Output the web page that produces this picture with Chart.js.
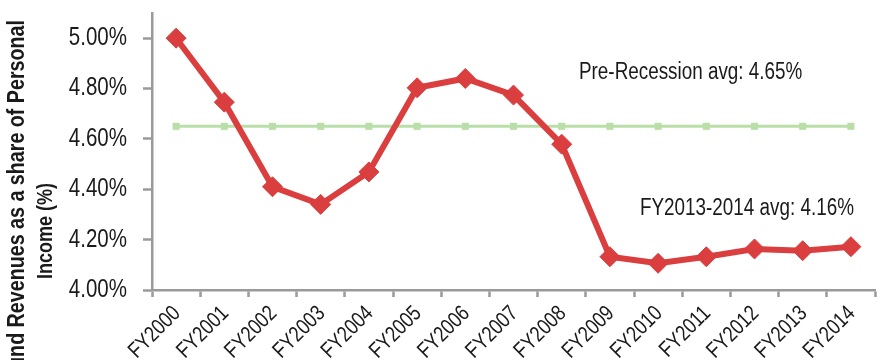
<!DOCTYPE html>
<html>
<head>
<meta charset="utf-8">
<script src="https://cdn.jsdelivr.net/npm/chart.js@4"></script>
<style>
  html, body { margin: 0; padding: 0; background: #ffffff; }
  #wrap { position: relative; width: 886px; height: 360px; }
</style>
</head>
<body>
<div id="wrap"><canvas id="chart" width="886" height="360"></canvas></div>
<script>
// Fiscal years on the category axis
const fiscalYears = ['FY2000', 'FY2001', 'FY2002', 'FY2003', 'FY2004', 'FY2005', 'FY2006', 'FY2007',
  'FY2008', 'FY2009', 'FY2010', 'FY2011', 'FY2012', 'FY2013', 'FY2014'];

// General Fund revenues as a share of personal income (%)
const revenueShare = [5.00, 4.746, 4.41, 4.34, 4.469, 4.803, 4.84, 4.774, 4.579, 4.132, 4.106, 4.132, 4.163, 4.156, 4.172];

// Pre-recession average, drawn flat across all years
const preRecessionAvg = 4.65;
const preRecessionLine = fiscalYears.map(() => preRecessionAvg);

// Two-year recent average quoted in the second note
const recentAvg = 4.16;

// Y-axis tick values
const yTickValues = [4.00, 4.20, 4.40, 4.60, 4.80, 5.00];

const notes = [
  { text: 'Pre-Recession avg: ' + preRecessionAvg.toFixed(2) + '%', left: 579, yValue: 4.865 },
  { text: 'FY2013-2014 avg: ' + recentAvg.toFixed(2) + '%', left: 640, yValue: 4.322 }
];

const FONT = "'Liberation Sans', Arial, sans-serif";
const AXIS_GREY = '#9a9a9a';
const TEXT = '#1a1a1a';
const SQUEEZE = 0.82; // tall, narrow lettering

// Draws text squeezed along its own direction
function squeezedText(ctx, text, x, y, opts) {
  ctx.save();
  ctx.font = opts.font;
  ctx.fillStyle = TEXT;
  ctx.textAlign = opts.align || 'left';
  ctx.textBaseline = 'middle';
  ctx.translate(x, y);
  if (opts.angle) ctx.rotate(opts.angle);
  ctx.scale(SQUEEZE, 1);
  ctx.fillText(text, 0, 0);
  ctx.restore();
}

const textPlugin = {
  id: 'squeezedLabels',
  afterDraw(chart) {
    const ctx = chart.ctx;
    const x = chart.scales.x;
    const y = chart.scales.y;
    const area = chart.chartArea;

    // y tick labels
    yTickValues.forEach(v => {
      squeezedText(ctx, v.toFixed(2) + '%', area.left - 25, y.getPixelForValue(v),
        { font: '25px ' + FONT, align: 'right' });
    });

    // x tick labels, rotated 45 degrees
    fiscalYears.forEach((label, i) => {
      squeezedText(ctx, label, x.getPixelForValue(i) + 1, area.bottom + 20,
        { font: '22px ' + FONT, align: 'right', angle: -Math.PI / 4 });
    });

    // notes
    notes.forEach(n => {
      squeezedText(ctx, n.text, n.left, y.getPixelForValue(n.yValue), { font: '23px ' + FONT });
    });

    // axis title, two lines; the first one runs off the lower edge
    squeezedText(ctx, 'General Fund Revenues as a share of Personal', 17, 20,
      { font: 'bold 24px ' + FONT, align: 'right', angle: -Math.PI / 2 });
    squeezedText(ctx, 'Income (%)', 46, 231,
      { font: 'bold 22px ' + FONT, align: 'center', angle: -Math.PI / 2 });
  }
};

new Chart(document.getElementById('chart'), {
  type: 'line',
  data: {
    labels: fiscalYears,
    datasets: [
      {
        label: 'Pre-Recession avg',
        data: preRecessionLine,
        borderColor: '#b9dfa8',
        backgroundColor: '#b9dfa8',
        borderWidth: 3,
        pointStyle: 'rect',
        pointRadius: 5,
        pointBorderWidth: 0,
        tension: 0,
        order: 2
      },
      {
        label: 'Revenue share',
        data: revenueShare,
        borderColor: '#da3e3e',
        backgroundColor: '#da3e3e',
        borderWidth: 6,
        pointStyle: 'rectRot',
        pointRadius: 10,
        pointBorderWidth: 1,
        tension: 0,
        order: 1
      }
    ]
  },
  options: {
    responsive: false,
    animation: false,
    events: [],
    layout: { padding: { top: 13, right: 2, left: 0, bottom: 0 } },
    plugins: {
      legend: { display: false },
      tooltip: { enabled: false }
    },
    scales: {
      x: {
        offset: true,
        grid: {
          display: true,
          offset: true,
          drawOnChartArea: false,
          drawTicks: true,
          tickLength: 7,
          tickWidth: 2.5,
          tickColor: AXIS_GREY
        },
        border: { display: true, color: AXIS_GREY, width: 2.5 },
        ticks: { display: false, autoSkip: false },
        afterFit(scale) { scale.height = 70; }
      },
      y: {
        min: 4.0,
        max: 5.1,
        afterBuildTicks(scale) {
          scale.ticks = yTickValues.map(v => ({ value: v }));
        },
        grid: {
          display: true,
          drawOnChartArea: false,
          drawTicks: true,
          tickLength: 9,
          tickWidth: 2.5,
          tickColor: AXIS_GREY
        },
        border: { display: true, color: AXIS_GREY, width: 2.5 },
        ticks: { display: false },
        afterFit(scale) { scale.width = 152; }
      }
    }
  },
  plugins: [textPlugin]
});
</script>
</body>
</html>
